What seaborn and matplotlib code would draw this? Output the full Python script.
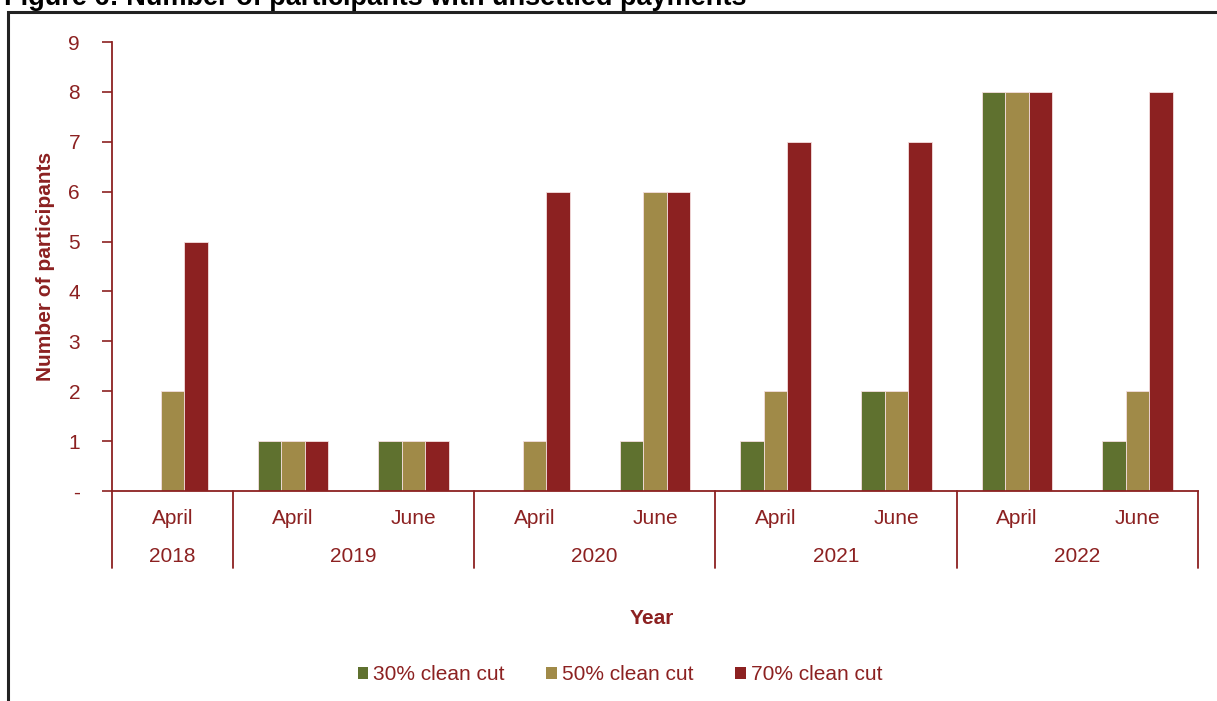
import matplotlib
matplotlib.use("Agg")
import matplotlib.pyplot as plt
import matplotlib.transforms as mtransforms
from matplotlib.patches import Patch, Rectangle
import seaborn as sns
import pandas as pd

# ---- data ----
months = ["April", "April", "June", "April", "June", "April", "June", "April", "June"]
years = ["2018", "2019", "2020", "2021", "2022"]
year_slots = [1, 2, 2, 2, 2]
series = ["30% clean cut", "50% clean cut", "70% clean cut"]
cut30 = [0, 1, 1, 0, 1, 1, 2, 8, 1]
cut50 = [2, 1, 1, 1, 6, 2, 2, 8, 2]
cut70 = [5, 1, 1, 6, 6, 7, 7, 8, 8]
yticks = [0, 1, 2, 3, 4, 5, 6, 7, 8, 9]
ytick_labels = ["-", "1", "2", "3", "4", "5", "6", "7", "8", "9"]

colors = ["#5F712F", "#A08A48", "#8C2121"]
txt = "#8C2121"

rows = []
for i in range(len(months)):
    for s, vals in zip(series, [cut30, cut50, cut70]):
        rows.append({"slot": i, "series": s, "value": vals[i]})
df = pd.DataFrame(rows)

sns.set_theme(style="white")
plt.rcParams["font.family"] = ["Liberation Sans", "DejaVu Sans"]

W, H = 1217, 701
fig = plt.figure(figsize=(W / 100, H / 100), dpi=100)
ax = fig.add_axes([112 / W, (H - 491) / H, (1198 - 112) / W, (491 - 42) / H])

sns.barplot(data=df, x="slot", y="value", hue="series", palette=colors, saturation=1,
            width=0.585, edgecolor="#f4dede", linewidth=0.6, legend=False,
            ax=ax, order=list(range(len(months))))

ax.set_xlim(-0.5, len(months) - 0.5)
ax.set_ylim(0, 9)
ax.set_yticks(yticks)
ax.set_yticklabels(ytick_labels, color=txt, fontsize=15)
ax.tick_params(axis="y", direction="out", length=7, width=1.2, color=txt, pad=16, left=True)
ax.set_xticks(range(len(months)))
ax.set_xticklabels(months, color=txt, fontsize=15)
ax.tick_params(axis="x", length=0, pad=13)
ax.set_xlabel("")
ax.set_ylabel("Number of participants", color=txt, fontsize=15, fontweight="bold", labelpad=10)

for sp in ["top", "right"]:
    ax.spines[sp].set_visible(False)
for sp in ["left", "bottom"]:
    ax.spines[sp].set_color(txt)
    ax.spines[sp].set_linewidth(1.3)

# category separators and year labels
btrans = mtransforms.blended_transform_factory(ax.transData, ax.transAxes)
ylow = -(568 - 491) / (491 - 42)
bounds = [-0.5]
for n in year_slots:
    bounds.append(bounds[-1] + n)
for b in bounds:
    ax.plot([b, b], [0, ylow], color=txt, lw=1.3, transform=btrans, clip_on=False)
for i, yr in enumerate(years):
    xc = (bounds[i] + bounds[i + 1]) / 2
    ax.text(xc, -(557 - 491) / (491 - 42), yr, transform=btrans, ha="center", va="center",
            color=txt, fontsize=15)

ax.text(0.5 * (bounds[0] + bounds[-1]) - 0.03, -(618 - 491) / (491 - 42), "Year",
        transform=btrans, ha="center", va="center", color=txt, fontsize=15, fontweight="bold")

handles = [Patch(facecolor=c, edgecolor="none") for c in colors]
leg = fig.legend(handles, series, loc="center", bbox_to_anchor=(620 / W, 1 - 675 / H),
                 ncol=3, frameon=False, fontsize=15, handlelength=0.5, handleheight=0.5,
                 handletextpad=0.25, columnspacing=2.0)
for t in leg.get_texts():
    t.set_color(txt)

# frame and title
fig.patches.append(Rectangle((8 / W, -0.1), 1.2, 1 - 12 / H + 0.1, transform=fig.transFigure,
                             fill=False, edgecolor="#222222", lw=2.2, clip_on=False))
fig.text(4 / W, 1 - 5 / H, "Figure 6: Number of participants with unsettled payments",
         ha="left", va="baseline", fontsize=19.5, fontweight="bold", color="black")

fig.savefig("out.png", dpi=100)
